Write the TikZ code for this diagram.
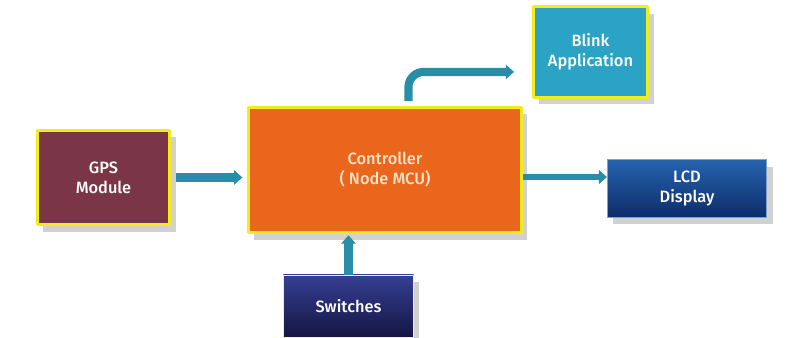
\documentclass[tikz,border=0pt]{standalone}
\usepackage{fontspec}
\setmainfont{Fira Sans}[UprightFont={* Medium}]
\usetikzlibrary{arrows.meta,shadows}
\definecolor{gpsred}{HTML}{7A3646}
\definecolor{ctrlorange}{HTML}{E9661C}
\definecolor{blinkteal}{HTML}{2BA3C4}
\definecolor{lcdtop}{HTML}{2563AF}
\definecolor{lcdbot}{HTML}{0E2C6A}
\definecolor{swtop}{HTML}{363F93}
\definecolor{swbot}{HTML}{141643}
\definecolor{pipeblue}{HTML}{2A8DA8}
\definecolor{frameyellow}{HTML}{F3EC1C}
\definecolor{peach}{HTML}{FBE3C8}
\begin{document}
\begin{tikzpicture}[x=0.03cm, y=-0.03cm, line join=round,
	font=\fontsize{14}{17}\selectfont,
	block/.style={rectangle, align=center, text=white, inner sep=0pt,
		drop shadow={shadow xshift=5pt, shadow yshift=-6pt, fill=black!45, opacity=.4}},
	yframe/.style={draw=frameyellow, line width=2.5pt},
	pipe/.style={draw=pipeblue, line width=7pt, -{Triangle[length=7pt,width=12pt]}},
	]
	\useasboundingbox (0,0) rectangle (803,338);
	\path (103.5,177.5) coordinate (G)
	(385,170) coordinate (C)
	(590.5,52) coordinate (B)
	(687,188.5) coordinate (L)
	(348.5,306) coordinate (S)
	;
	\node[block, yframe, fill=gpsred, minimum width=113pt, minimum height=81pt] (gps) at (G) {GPS\\Module};
	\node[block, yframe, fill=ctrlorange, text=peach, minimum width=233pt, minimum height=107pt] (ctrl) at (C) {Controller\\( Node MCU)};
	\node[block, yframe, fill=blinkteal, minimum width=98pt, minimum height=77pt] (blink) at (B) {Blink\\Application};
	\node[block, draw=lcdtop!60, line width=.6pt, top color=lcdtop, bottom color=lcdbot, minimum width=136pt, minimum height=49pt] (lcd) at (L) {LCD\\Display};
	\node[block, draw=frameyellow!50, line width=.6pt, top color=swtop, bottom color=swbot, minimum width=111pt, minimum height=53pt] (sw) at (S) {Switches};
	\draw[pipe, shorten <=4pt, shorten >=4pt] (gps.east) -- (gps.east -| ctrl.west);
	\draw[pipe, line width=5pt] ([yshift=-6pt]ctrl.east) -- ([yshift=-6pt]ctrl.east -| lcd.west);
	\draw[pipe, shorten >=1pt] (sw.north) -- (sw.north |- ctrl.south);
	\draw[pipe, rounded corners=13pt, shorten <=4pt, shorten >=15pt] ([xshift=20pt]ctrl.north) |- ([yshift=-17pt]blink.west);
\end{tikzpicture}
\end{document}
